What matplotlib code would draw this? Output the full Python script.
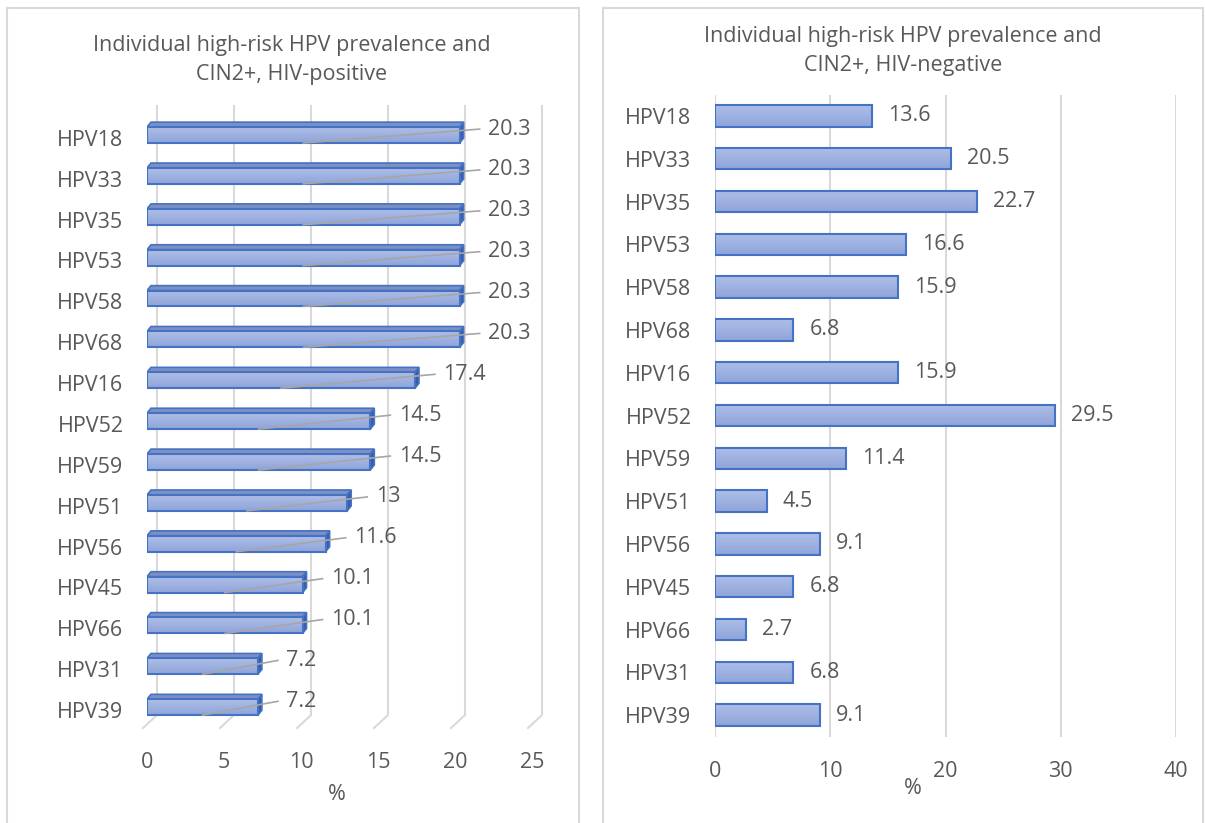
import numpy as np
import matplotlib
matplotlib.use("Agg")
from matplotlib import pyplot as plt
from matplotlib.patches import Rectangle, Polygon

plt.rcParams['font.family'] = ['Open Sans', 'DejaVu Sans']

# HIV-positive panel
pos_types = ["HPV18", "HPV33", "HPV35", "HPV53", "HPV58", "HPV68", "HPV16", "HPV52",
             "HPV59", "HPV51", "HPV56", "HPV45", "HPV66", "HPV31", "HPV39"]
pos_vals = [20.3, 20.3, 20.3, 20.3, 20.3, 20.3, 17.4, 14.5, 14.5, 13, 11.6, 10.1, 10.1, 7.2, 7.2]
pos_ticks = [0, 5, 10, 15, 20, 25]

# HIV-negative panel
neg_types = ["HPV18", "HPV33", "HPV35", "HPV53", "HPV58", "HPV68", "HPV16", "HPV52",
             "HPV59", "HPV51", "HPV56", "HPV45", "HPV66", "HPV31", "HPV39"]
neg_vals = [13.6, 20.5, 22.7, 16.6, 15.9, 6.8, 15.9, 29.5, 11.4, 4.5, 9.1, 6.8, 2.7, 6.8, 9.1]
neg_ticks = [0, 10, 20, 30, 40]

txt = "#595959"
grid_c = "#D9D9D9"
edge = "#4472C4"
W, H = 1205, 823
fs = 15.5
tfs = 15.5

fig = plt.figure(figsize=(W / 100, H / 100), dpi=100)


def px_axes(x0, y0, x1, y1):
    return fig.add_axes([x0 / W, 1 - y1 / H, (x1 - x0) / W, (y1 - y0) / H])


def grad_bar(ax, x0, x1, yc, h, z=3):
    g = np.linspace(0, 1, 50).reshape(-1, 1)
    cmap = matplotlib.colors.LinearSegmentedColormap.from_list("b", ["#AEBEE7", "#8FA4DA"])
    ax.imshow(g, extent=[x0, x1, yc + h / 2, yc - h / 2], aspect='auto', cmap=cmap,
              origin='upper', zorder=z, interpolation='bilinear')


# panel frames
for x0, x1 in [(7, 579), (603, 1203)]:
    fig.add_artist(Rectangle((x0 / W, -0.01), (x1 - x0) / W, 1 - 8 / H + 0.01,
                             transform=fig.transFigure, fill=False, ec=grid_c, lw=1.5))

# ---- left: 3-D style bars ----
ax1 = px_axes(147, 106, 532, 735)
for s in ax1.spines.values():
    s.set_visible(False)
ax1.patch.set_alpha(0)

ddx, ddy = 0.26, -0.12       # bar depth
gdx = 0.65                    # back wall offset
for t in pos_ticks:
    ax1.plot([t + gdx, t + gdx, t - 0.26], [-0.78, 14.12, 14.44], color=grid_c, lw=1.5,
             zorder=1, clip_on=False)

h = 0.39
for i, v in enumerate(pos_vals):
    yc = i - 0.07
    top, bot = yc - h / 2, yc + h / 2
    ax1.add_patch(Polygon([(0, top), (ddx, top + ddy), (v + ddx, top + ddy), (v, top)],
                          closed=True, fc="#7D90C4", ec=edge, lw=1.2, zorder=3))
    ax1.add_patch(Polygon([(v, top), (v + ddx, top + ddy), (v + ddx, bot + ddy), (v, bot)],
                          closed=True, fc="#3A5CAB", ec=edge, lw=1.2, zorder=3))
    grad_bar(ax1, 0, v, yc, h, z=3)
    ax1.add_patch(Rectangle((0, top), v, h, fill=False, ec=edge, lw=1.5, zorder=4))
    ax1.plot([v / 2, v + 1.3], [bot, top + 0.05], color="#A6A6A6", lw=1.2, zorder=5)
    ax1.text(v + 1.85, top + 0.05, f"{v:g}", color=txt, fontsize=fs, va='center', ha='left',
             zorder=6)

ax1.set_yticks(range(len(pos_types)))
ax1.set_yticklabels(pos_types)
ax1.set_xticks(pos_ticks)
ax1.tick_params(length=0, labelsize=fs, labelcolor=txt)
ax1.tick_params(axis='y', pad=17)
ax1.tick_params(axis='x', pad=12)
ax1.set_xlim(0, 25)
ax1.set_ylim(14.61, -0.78)
fig.text(337 / W, 1 - 795 / H, "%", color=txt, fontsize=fs, ha='center', va='center')
fig.text(292 / W, 1 - 60 / H, "Individual high-risk HPV prevalence and\nCIN2+, HIV-positive",
         color=txt, fontsize=tfs, ha='center', va='center', linespacing=1.5)

# ---- right: flat bars ----
ax2 = px_axes(715, 95, 1176, 737)
for s in ax2.spines.values():
    s.set_visible(False)
for t in neg_ticks:
    ax2.axvline(t, color=grid_c, lw=1.5, zorder=1)
hb = 0.5
for i, v in enumerate(neg_vals):
    grad_bar(ax2, 0, v, i, hb)
    ax2.add_patch(Rectangle((0, i - hb / 2), v, hb, fill=False, ec=edge, lw=1.5, zorder=4))
    ax2.text(v + 1.4, i, f"{v:g}", color=txt, fontsize=fs, va='center', ha='left')
ax2.set_yticks(range(len(neg_types)))
ax2.set_yticklabels(neg_types)
ax2.set_xticks(neg_ticks)
ax2.tick_params(length=0, labelsize=fs, labelcolor=txt)
ax2.tick_params(axis='y', pad=17)
ax2.tick_params(axis='x', pad=17)
ax2.set_xlim(0, 40)
ax2.set_ylim(14.51, -0.49)
fig.text(913 / W, 1 - 789 / H, "%", color=txt, fontsize=fs, ha='center', va='center')
fig.text(903 / W, 1 - 51 / H, "Individual high-risk HPV prevalence and\nCIN2+, HIV-negative",
         color=txt, fontsize=tfs, ha='center', va='center', linespacing=1.5)

fig.savefig("out.png", dpi=100)
